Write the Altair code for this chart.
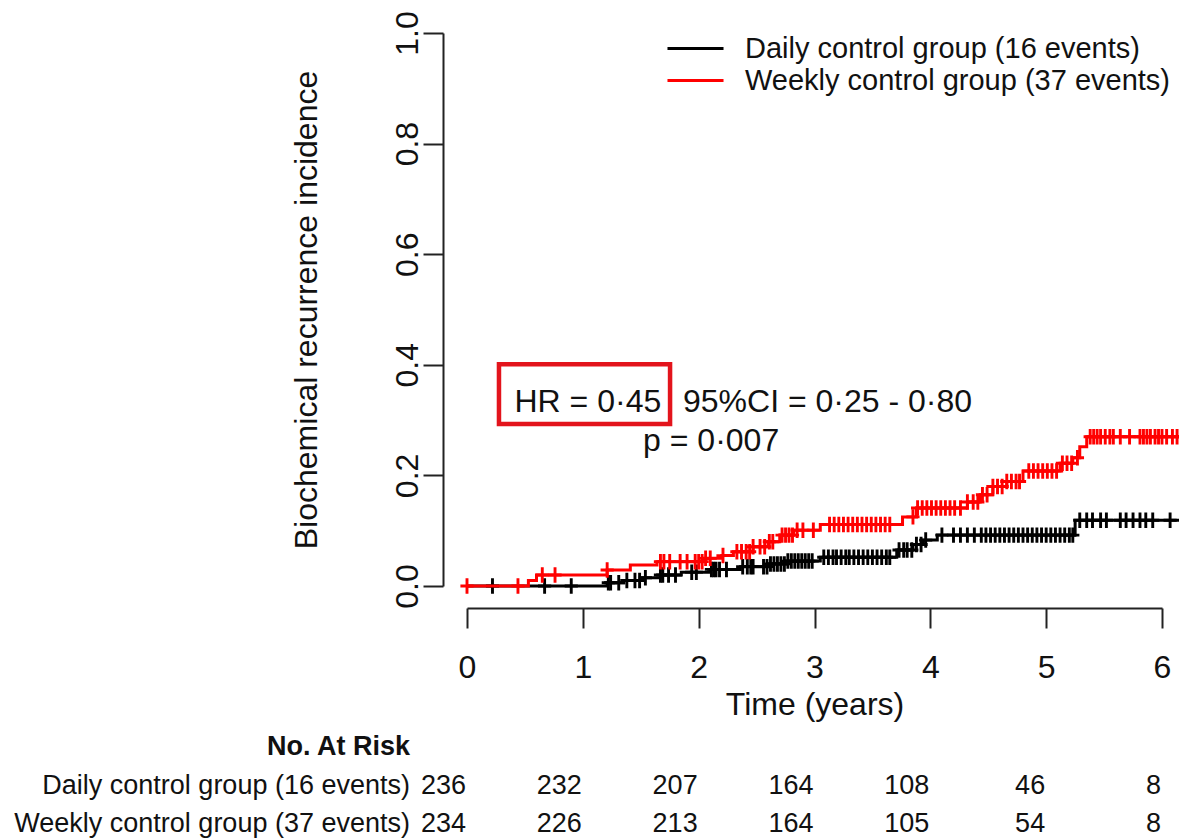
import altair as alt
import pandas as pd

# ---------------- data ----------------
groups = ["Daily control group (16 events)", "Weekly control group (37 events)"]
colors = ["#000000", "#ff0000"]

# step points (time in years, cumulative incidence after the step)
daily_step_t = [0.00, 1.21, 1.35, 1.50, 1.67, 1.85, 2.10, 2.36, 2.60, 2.75, 3.05, 3.71, 3.85, 3.94, 4.06, 5.25]
daily_step_v = [0.000, 0.006, 0.010, 0.015, 0.020, 0.025, 0.030, 0.035, 0.040, 0.045, 0.052, 0.065, 0.075, 0.083, 0.092, 0.119]

weekly_step_t = [0.00, 0.53, 0.60, 1.21, 1.41, 1.64, 2.05, 2.20, 2.30, 2.47, 2.60, 2.70, 2.82, 3.05,
                 3.76, 3.88, 4.32, 4.43, 4.54, 4.66, 4.80, 5.12, 5.23, 5.29, 5.35]
weekly_step_v = [0.000, 0.010, 0.020, 0.029, 0.038, 0.044, 0.050, 0.055, 0.062, 0.071, 0.080, 0.092, 0.101, 0.111,
                 0.125, 0.141, 0.152, 0.165, 0.180, 0.189, 0.208, 0.222, 0.232, 0.252, 0.270]

follow_up_end = 6.2

# censoring times (+ marks)
daily_censor = [0.22, 0.67, 0.90, 1.22, 1.24, 1.31, 1.38, 1.45, 1.49, 1.54, 1.67, 1.69, 1.74, 1.80, 1.94, 1.98,
                2.11, 2.13, 2.15, 2.18, 2.24, 2.38, 2.42, 2.45, 2.47, 2.56, 2.59, 2.62, 2.65, 2.68, 2.71, 2.74,
                2.77, 2.80, 2.83, 2.86, 2.89, 2.92, 2.95, 2.98, 3.08, 3.12, 3.16, 3.19, 3.23, 3.27, 3.30, 3.34,
                3.38, 3.42, 3.46, 3.50, 3.54, 3.58, 3.62, 3.65, 3.73, 3.77, 3.80, 3.84, 3.88, 3.92, 3.96, 4.10,
                4.20, 4.26, 4.32, 4.38, 4.44, 4.48, 4.52, 4.56, 4.60, 4.64, 4.68, 4.72, 4.76, 4.80, 4.84, 4.88,
                4.92, 4.96, 5.00, 5.04, 5.08, 5.12, 5.16, 5.20, 5.23, 5.29, 5.35, 5.40, 5.47, 5.52, 5.64, 5.69,
                5.75, 5.81, 5.86, 5.92, 6.07]
weekly_censor = [0.00, 0.44, 0.65, 0.76, 1.21, 1.67, 1.70, 1.75, 1.84, 1.90, 1.97, 2.00, 2.03, 2.06, 2.10, 2.21,
                 2.33, 2.37, 2.41, 2.44, 2.47, 2.53, 2.57, 2.61, 2.64, 2.72, 2.75, 2.78, 2.81, 2.85, 2.90, 2.99,
                 3.13, 3.17, 3.21, 3.25, 3.29, 3.33, 3.37, 3.41, 3.45, 3.49, 3.53, 3.57, 3.61, 3.65, 3.85, 3.89,
                 3.93, 3.97, 4.01, 4.05, 4.09, 4.13, 4.17, 4.21, 4.26, 4.32, 4.37, 4.41, 4.45, 4.49, 4.54, 4.58,
                 4.62, 4.66, 4.70, 4.74, 4.77, 4.85, 4.89, 4.93, 4.97, 5.01, 5.05, 5.09, 5.14, 5.18, 5.22, 5.27,
                 5.38, 5.41, 5.44, 5.47, 5.51, 5.55, 5.58, 5.64, 5.72, 5.81, 5.84, 5.87, 5.90, 5.94, 5.97, 6.00,
                 6.04, 6.09, 6.13]

# numbers at risk
risk_times = [0, 1, 2, 3, 4, 5, 6]
daily_at_risk = [236, 232, 207, 164, 108, 46, 8]
weekly_at_risk = [234, 226, 213, 164, 105, 54, 8]

x_ticks = [0, 1, 2, 3, 4, 5, 6]
y_ticks = [0.0, 0.2, 0.4, 0.6, 0.8, 1.0]

annot_text = ["HR = 0\u00b745", "95%CI = 0\u00b725 - 0\u00b780", "p = 0\u00b7007"]
annot_x = [0.41, 1.865, 1.52]
annot_y = [0.333, 0.333, 0.262]
box_x = [0.276, 1.753]
box_y = [0.293, 0.401]

FONT = "Liberation Sans"

# ---------------- tables ----------------
def step_value(ts, vs, t):
    v = vs[0]
    for tt, vv in zip(ts, vs):
        if tt <= t:
            v = vv
    return v

line_rows, cens_rows = [], []
for g, col, ts, vs, cs in [
    (groups[0], colors[0], daily_step_t, daily_step_v, daily_censor),
    (groups[1], colors[1], weekly_step_t, weekly_step_v, weekly_censor),
]:
    for i, (t, v) in enumerate(zip(ts, vs)):
        line_rows.append({"group": g, "time": t, "value": v, "ord": i})
    line_rows.append({"group": g, "time": follow_up_end, "value": vs[-1], "ord": len(ts)})
    for t in cs:
        cens_rows.append({"group": g, "time": t, "value": step_value(ts, vs, t), "colr": col})

lines = pd.DataFrame(line_rows)
cens = pd.DataFrame(cens_rows)
annot = pd.DataFrame({"text": annot_text, "x": annot_x, "y": annot_y})
box = pd.DataFrame({"x": [box_x[0]], "x2": [box_x[1]], "y": [box_y[0]], "y2": [box_y[1]]})
risk_daily = pd.DataFrame({"time": risk_times, "n": daily_at_risk})
risk_weekly = pd.DataFrame({"time": risk_times, "n": weekly_at_risk})

xscale = alt.Scale(domain=[0, 6], nice=False, zero=False)
yscale = alt.Scale(domain=[0, 1], nice=False, zero=False)

x_axis = alt.Axis(values=x_ticks, title="Time (years)", format="d", grid=False,
                  offset=22, tickSize=20, labelPadding=24, titlePadding=6,
                  labelFontSize=32, titleFontSize=32, titleFontWeight="normal",
                  labelFont=FONT, titleFont=FONT, labelColor="#111", titleColor="#111",
                  domainColor="#222", tickColor="#222", domainWidth=2, tickWidth=2,
                  labelFlush=False)
y_axis = alt.Axis(values=y_ticks, title="Biochemical recurrence incidence", format=".1f", grid=False,
                  offset=24, tickSize=20, labelAngle=270, labelAlign="center", labelBaseline="alphabetic",
                  labelPadding=6, titlePadding=68,
                  labelFontSize=32, titleFontSize=32, titleFontWeight="normal",
                  labelFont=FONT, titleFont=FONT, labelColor="#111", titleColor="#111",
                  domainColor="#222", tickColor="#222", domainWidth=2, tickWidth=2,
                  labelFlush=False)

# legend key: a horizontal line sample wider than its symbol box
legend_key = "M-1.9,0L1.9,0"

color = alt.Color("group:N",
                  scale=alt.Scale(domain=groups, range=colors),
                  legend=alt.Legend(title=None, orient="none", legendX=212, legendY=-1,
                                    symbolType=legend_key, symbolSize=870, symbolStrokeWidth=3,
                                    labelFontSize=29, labelFont=FONT, labelColor="#111",
                                    labelOffset=33, rowPadding=0, padding=0, labelLimit=0))

plus = "M0,-1L0,1M-0.85,0L0.85,0"

layers = []
for g in groups:
    layers.append(
        alt.Chart(lines).transform_filter(alt.datum.group == g)
        .mark_line(interpolate="step-after", strokeWidth=3)
        .encode(x=alt.X("time:Q", scale=xscale, axis=x_axis),
                y=alt.Y("value:Q", scale=yscale, axis=y_axis),
                order="ord:Q", color=color)
    )
    layers.append(
        alt.Chart(cens).transform_filter(alt.datum.group == g)
        .mark_point(shape=plus, size=240, filled=False, strokeWidth=2.9, opacity=1)
        .encode(x="time:Q", y="value:Q", stroke=alt.Stroke("colr:N", scale=None))
    )

box_layer = alt.Chart(box).mark_rect(filled=False, stroke="#e3141c", strokeWidth=4.5).encode(
    x="x:Q", x2="x2", y="y:Q", y2="y2")
annot_layer = alt.Chart(annot).mark_text(align="left", baseline="middle", fontSize=32, font=FONT,
                                         color="#111").encode(x="x:Q", y="y:Q", text="text:N")

risk_title = alt.Chart(pd.DataFrame({"t": ["No. At Risk"]})).mark_text(
    align="right", baseline="middle", fontSize=27, font=FONT, fontWeight="bold", color="#111"
).encode(x=alt.value(-57), y=alt.value(714), text="t:N")

risk_layers = []
for g, df, ypix in [(groups[0], risk_daily, 753), (groups[1], risk_weekly, 791)]:
    risk_layers.append(alt.Chart(pd.DataFrame({"t": [g]})).mark_text(
        align="right", baseline="middle", fontSize=27, font=FONT, color="#111"
    ).encode(x=alt.value(-57), y=alt.value(ypix), text="t:N"))
    risk_layers.append(alt.Chart(df).mark_text(
        align="right", baseline="middle", fontSize=27, font=FONT, color="#111", dx=-1
    ).encode(x="time:Q", y=alt.value(ypix), text="n:Q"))

chart = alt.layer(*layers, box_layer, annot_layer, risk_title, *risk_layers).properties(
    width=695, height=553,
    padding={"left": 467, "top": 33, "right": 17, "bottom": 253},
    autosize=alt.AutoSizeParams(type="none"),
    background="white",
).configure_view(stroke=None)

chart.save("out.html", embed_options={"renderer": "svg", "actions": False})
